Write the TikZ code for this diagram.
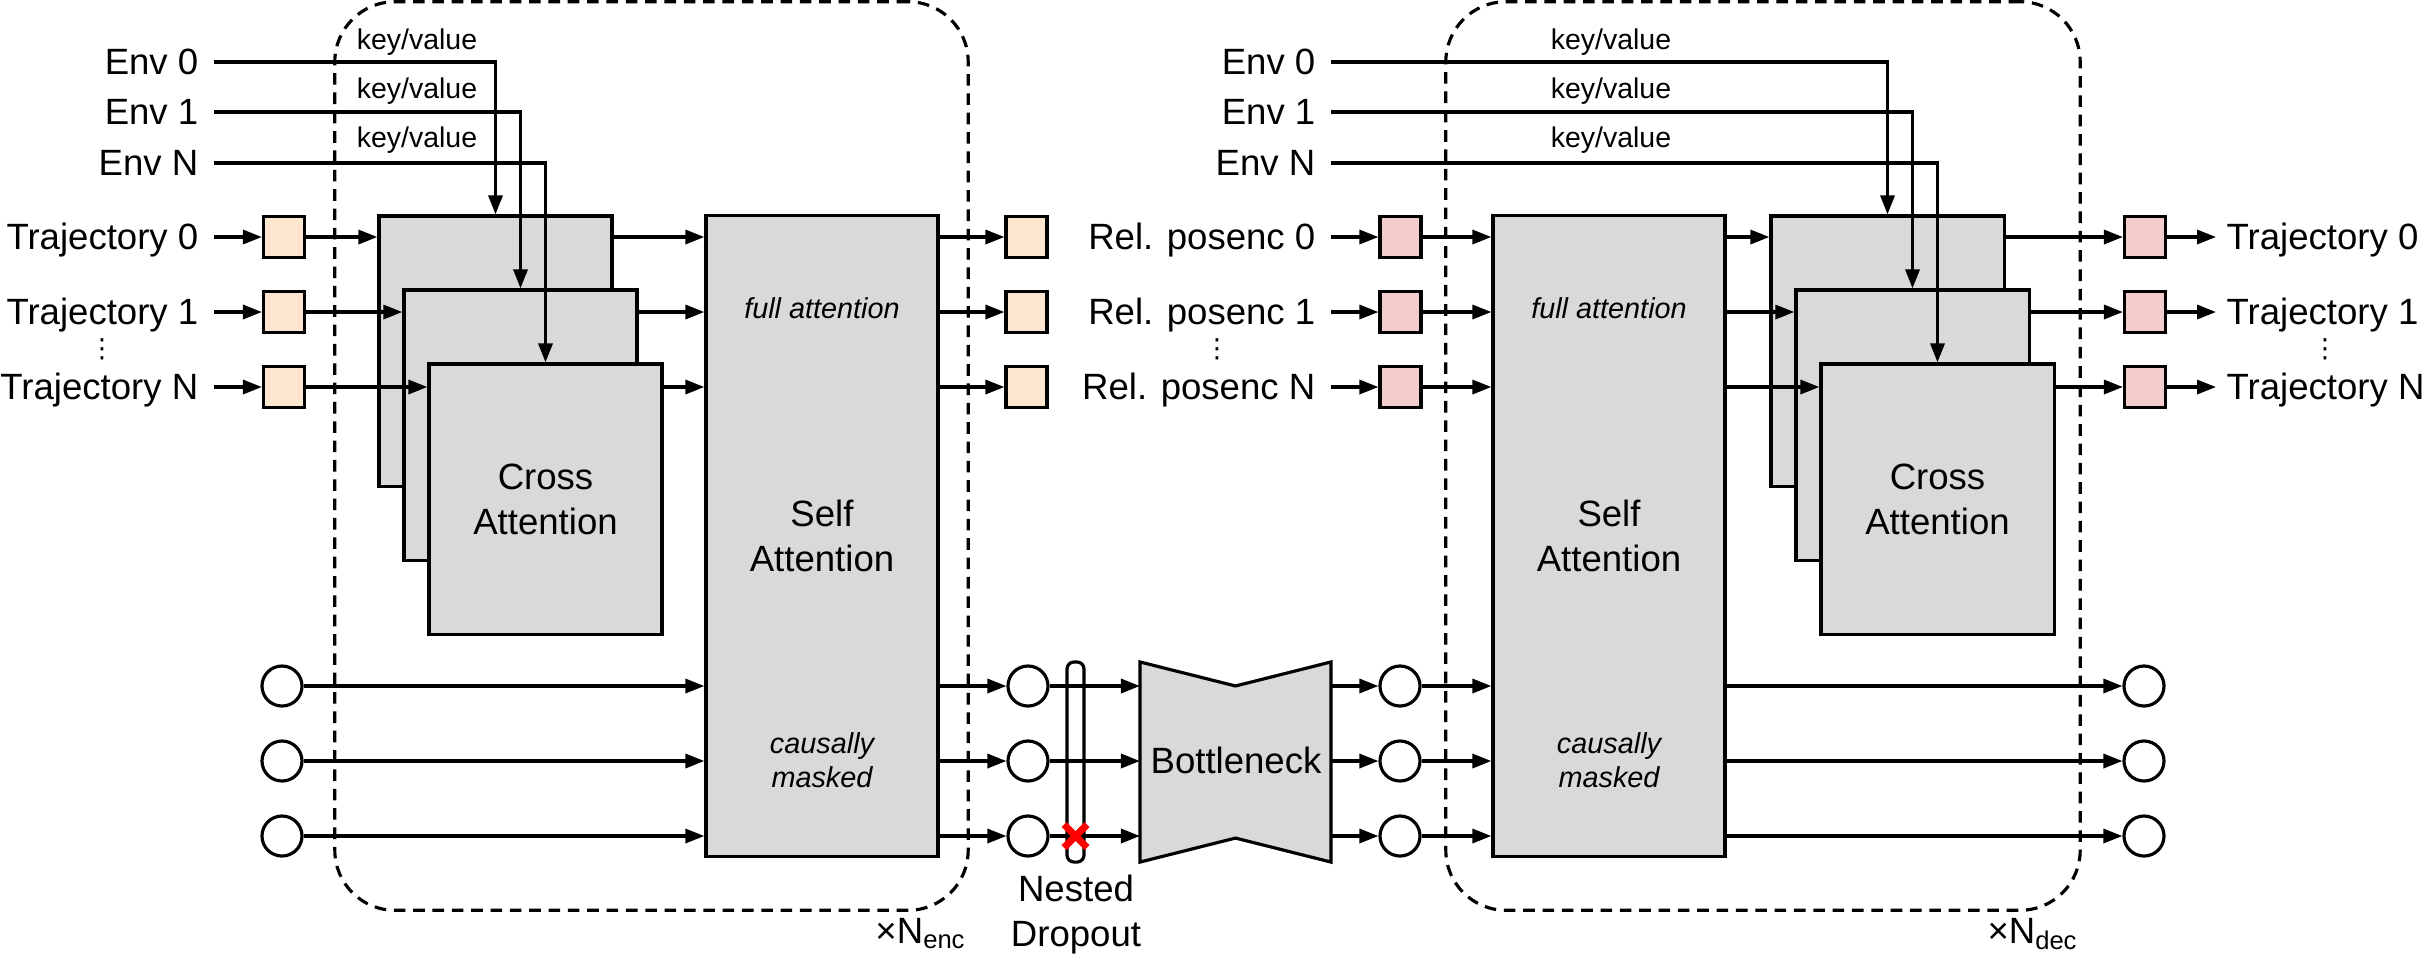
\documentclass[tikz,border=0pt]{standalone}
\usepackage{fontspec}
\setmainfont{Liberation Sans}
\newfontfamily\symfont{DejaVu Sans}
\usetikzlibrary{arrows.meta,calc}
\definecolor{boxgray}{HTML}{D9D9D9}
\definecolor{peach}{HTML}{FDE6CF}
\definecolor{rosy}{HTML}{F4CCCC}
\definecolor{xred}{HTML}{FF0000}
\begin{document}
\begin{tikzpicture}[x=0.01cm,y=-0.01cm,
  thk/.style={line width=0.9pt},
  bigtxt/.style={font=\fontsize{10.4}{12.8}\selectfont},
  itxt/.style={font=\fontsize{8.2}{9.7}\selectfont\itshape, align=center},
  kv/.style={font=\fontsize{8.1}{9.7}\selectfont, inner sep=0},
  vdot/.style={font=\symfont\fontsize{7.5}{8}\selectfont, inner sep=0},
  attbox/.style={draw, thk, fill=boxgray, inner sep=0, minimum width=2.33cm, minimum height=2.70cm, align=center, bigtxt},
  sabox/.style={draw, thk, fill=boxgray, inner sep=0, minimum width=2.32cm, minimum height=6.40cm, align=center, bigtxt},
  tok/.style={draw, thk, inner sep=0, minimum width=0.41cm, minimum height=0.41cm},
  latent/.style={draw, thk, circle, inner sep=0, minimum size=0.40cm, fill=white},
  lbl/.style={bigtxt, inner ysep=0, inner xsep=0.15cm, text height=0.72em, text depth=0pt},
  rlbl/.style={bigtxt, inner ysep=0, inner xsep=0.1cm, text height=0.72em, text depth=0pt},
  arr/.style={thk, -{Triangle[length=5.4pt,width=4pt]}},
  repframe/.style={draw, thk, dash pattern=on 3.3pt off 2.2pt, rounded corners=0.6cm, inner sep=0},
]
\useasboundingbox (0,0) rectangle (2423,959);

% frames
\node[repframe, minimum width=6.33cm, minimum height=9.08cm] (encf) at (651.5,456) {};
\node[repframe, minimum width=6.34cm, minimum height=9.08cm] (decf) at (1763,456) {};

% ================= Encoder =================
\node[lbl, anchor=east] (eenv0) at (214,62) {Env 0};
\node[lbl, anchor=east] (eenv1) at (214,112) {Env 1};
\node[lbl, anchor=east] (eenvN) at (214,163) {Env N};
\node[kv] (ekv0) at (417,42) {key/value};
\node[kv] (ekv1) at (417,91) {key/value};
\node[kv] (ekvN) at (417,140) {key/value};

\node[lbl, anchor=east] (etr0) at (214,237) {Trajectory 0};
\node[lbl, anchor=east] (etr1) at (214,312) {Trajectory 1};
\node[lbl, anchor=east] (etrN) at (214,387) {Trajectory N};
\node[vdot] (edots) at (102,349) {⋮};

\node[tok, fill=peach] (ein0) at (284,237) {};
\node[tok, fill=peach] (ein1) at (284,312) {};
\node[tok, fill=peach] (einN) at (284,387) {};

\node[attbox] (ecb0) at (495.5,351) {};
\node[attbox] (ecb1) at (520.5,425) {};
\node[attbox] (ecbN) at (545.5,499) {Cross\\Attention};

\node[sabox] (esa) at (822,536) {Self\\Attention};
\node[itxt] (efull) at (822,308) {full attention};
\node[itxt] (ecaus) at (822,760) {causally\\masked};

\node[tok, fill=peach] (eout0) at (1026.5,237) {};
\node[tok, fill=peach] (eout1) at (1026.5,312) {};
\node[tok, fill=peach] (eoutN) at (1026.5,387) {};

\node[latent] (elat0) at (282,686) {};
\node[latent] (elat1) at (282,761) {};
\node[latent] (elatN) at (282,836) {};

\node[latent] (blin0) at (1028,686) {};
\node[latent] (blin1) at (1028,761) {};
\node[latent] (blinN) at (1028,836) {};

\node[draw, thk, fill=white, rounded corners=2pt, minimum width=0.17cm, minimum height=2.0cm, inner sep=0] (ndrop) at (1075.5,762) {};

\node[minimum width=1.91cm, minimum height=2.0cm, inner sep=0, outer sep=0] (bneck) at (1235.5,762) {};
\draw[thk, fill=boxgray] (bneck.north west) -- ([yshift=-0.24cm]bneck.north) -- (bneck.north east)
  -- (bneck.south east) -- ([yshift=0.24cm]bneck.south) -- (bneck.south west) -- cycle;
\node[bigtxt] (bnecktxt) at (1236,760) {Bottleneck};

\node[latent] (blout0) at (1400,686) {};
\node[latent] (blout1) at (1400,761) {};
\node[latent] (bloutN) at (1400,836) {};

\node[bigtxt, align=center] (ndl) at (1076,915) {Nested\\Dropout};
\node[bigtxt, anchor=base east, inner sep=0] (nenc) at (967,943) {×N\textsubscript{enc}};

% ================= Decoder =================
\node[lbl, anchor=east] (denv0) at (1331,62) {Env 0};
\node[lbl, anchor=east] (denv1) at (1331,112) {Env 1};
\node[lbl, anchor=east] (denvN) at (1331,163) {Env N};
\node[kv] (dkv0) at (1611,42) {key/value};
\node[kv] (dkv1) at (1611,91) {key/value};
\node[kv] (dkvN) at (1611,140) {key/value};

\node[lbl, anchor=east] (drp0) at (1331,237) {Rel. posenc 0};
\node[lbl, anchor=east] (drp1) at (1331,312) {Rel. posenc 1};
\node[lbl, anchor=east] (drpN) at (1331,387) {Rel. posenc N};
\node[vdot] (ddots) at (1217,349) {⋮};

\node[tok, fill=rosy] (din0) at (1400.5,237) {};
\node[tok, fill=rosy] (din1) at (1400.5,312) {};
\node[tok, fill=rosy] (dinN) at (1400.5,387) {};

\node[sabox] (dsa) at (1609,536) {Self\\Attention};
\node[itxt] (dfull) at (1609,308) {full attention};
\node[itxt] (dcaus) at (1609,760) {causally\\masked};

\node[attbox] (dcb0) at (1887.5,351) {};
\node[attbox] (dcb1) at (1912.5,425) {};
\node[attbox] (dcbN) at (1937.5,499) {Cross\\Attention};

\node[tok, fill=rosy] (dout0) at (2145,237) {};
\node[tok, fill=rosy] (dout1) at (2145,312) {};
\node[tok, fill=rosy] (doutN) at (2145,387) {};

\node[rlbl, anchor=west] (dtr0) at (2216,237) {Trajectory 0};
\node[rlbl, anchor=west] (dtr1) at (2216,312) {Trajectory 1};
\node[rlbl, anchor=west] (dtrN) at (2216,387) {Trajectory N};
\node[vdot] (odots) at (2325,349) {⋮};

\node[latent] (dlat0) at (2144,686) {};
\node[latent] (dlat1) at (2144,761) {};
\node[latent] (dlatN) at (2144,836) {};

\node[bigtxt, anchor=base east, inner sep=0] (ndec) at (2079,943) {×N\textsubscript{dec}};

% ================= Connectors =================
% encoder env key/value
\draw[arr] (eenv0.east) -| (ecb0.north);
\draw[arr] (eenv1.east) -| (ecb1.north);
\draw[arr] (eenvN.east) -| (ecbN.north);
% trajectories
\draw[arr] (etr0.east) -- (ein0.west);
\draw[arr] (etr1.east) -- (ein1.west);
\draw[arr] (etrN.east) -- (einN.west);
\draw[arr] (ein0.east) -- (ein0.east -| ecb0.west);
\draw[arr] (ein1.east) -- (ein1.east -| ecb1.west);
\draw[arr] (einN.east) -- (einN.east -| ecbN.west);
\draw[arr] (ecb0.east |- ein0) -- (esa.west |- ein0);
\draw[arr] (ecb1.east |- ein1) -- (esa.west |- ein1);
\draw[arr] (ecbN.east |- einN) -- (esa.west |- einN);
\draw[arr] (esa.east |- eout0) -- (eout0.west);
\draw[arr] (esa.east |- eout1) -- (eout1.west);
\draw[arr] (esa.east |- eoutN) -- (eoutN.west);
% latents
\foreach \k in {0,1,N}{
  \draw[arr] (elat\k.east) -- (elat\k.east -| esa.west);
  \draw[arr] (esa.east |- blin\k) -- (blin\k.west);
  \draw[arr] (blin\k.east) -- (blin\k.east -| bneck.west);
  \draw[arr] (bneck.east |- blout\k) -- (blout\k.west);
  \draw[arr] (blout\k.east) -- (blout\k.east -| dsa.west);
  \draw[arr] (dsa.east |- dlat\k) -- (dlat\k.west);
}
% nested dropout mark
\coordinate (xmark) at (ndrop.center |- blinN);
\draw[xred, line width=2pt] (xmark) ++(-11.5,-11.5) -- ++(23,23);
\draw[xred, line width=2pt] (xmark) ++(-11.5,11.5) -- ++(23,-23);

% decoder
\draw[arr] (denv0.east) -| (dcb0.north);
\draw[arr] (denv1.east) -| (dcb1.north);
\draw[arr] (denvN.east) -| (dcbN.north);
\draw[arr] (drp0.east) -- (din0.west);
\draw[arr] (drp1.east) -- (din1.west);
\draw[arr] (drpN.east) -- (dinN.west);
\draw[arr] (din0.east) -- (din0.east -| dsa.west);
\draw[arr] (din1.east) -- (din1.east -| dsa.west);
\draw[arr] (dinN.east) -- (dinN.east -| dsa.west);
\draw[arr] (dsa.east |- din0) -- (din0 -| dcb0.west);
\draw[arr] (dsa.east |- din1) -- (din1 -| dcb1.west);
\draw[arr] (dsa.east |- dinN) -- (dinN -| dcbN.west);
\draw[arr] (dcb0.east |- dout0) -- (dout0.west);
\draw[arr] (dcb1.east |- dout1) -- (dout1.west);
\draw[arr] (dcbN.east |- doutN) -- (doutN.west);
\draw[arr] (dout0.east) -- (dtr0.west);
\draw[arr] (dout1.east) -- (dtr1.west);
\draw[arr] (doutN.east) -- (dtrN.west);
\end{tikzpicture}
\end{document}
